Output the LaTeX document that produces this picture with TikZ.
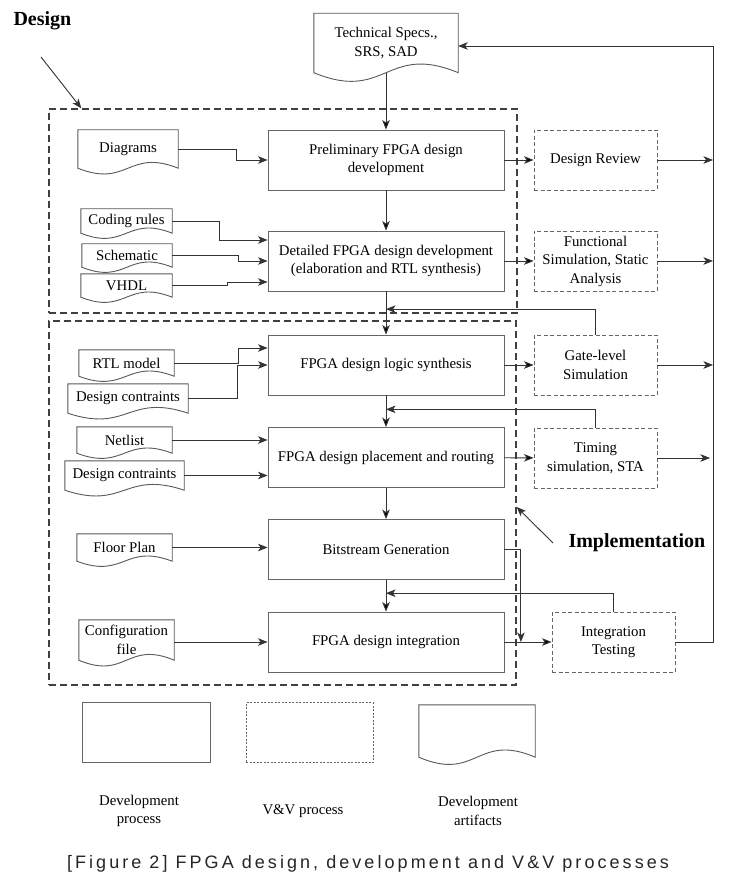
\documentclass[tikz,border=0pt]{standalone}
\usepackage{fontspec}
\setmainfont{Liberation Serif}
\newfontfamily\capfont[LetterSpace=17]{Liberation Sans}
\usetikzlibrary{positioning, arrows.meta, calc}

\begin{document}
\begin{tikzpicture}[
    x=1pt, y=-1pt,
    font=\fontsize{14.8}{18.5}\selectfont,
    >={Stealth[length=9.5pt, width=7.5pt, inset=2.5pt]},
    proc/.style={draw=black!60, line width=0.9pt, minimum width=236pt, minimum height=60pt, align=center},
    vv/.style={draw=black!60, line width=0.9pt, dash pattern=on 4pt off 2.5pt, minimum width=123pt, minimum height=60pt, align=center},
    doc/.style={align=center, inner sep=0pt},
    docline/.style={draw=black!65, line width=0.9pt},
    group/.style={draw=black!75, line width=1.3pt, dash pattern=on 7pt off 4pt},
    conn/.style={->, draw=black!80, line width=0.9pt},
    title/.style={font=\fontsize{20}{24}\bfseries\selectfont, anchor=west}
]
    \fill[white] (0,0) rectangle (734,890);

    % phase frames and their labels
    \node[group, minimum width=468pt, minimum height=204pt] (design) at (283,211) {};
    \node[group, minimum width=467pt, minimum height=364pt] (impl) at (282.5,503) {};
    \node[title] (designlab) at (10,21) {Design};
    \node[title] (implab) at (565,543) {Implementation};
    \coordinate (dtail) at (41,57);

    % development process (center column)
    \node[proc] (prelim) at (386,160) {Preliminary FPGA design\\development};
    \node[proc] (detail) at (386,261) {Detailed FPGA design development\\(elaboration and RTL synthesis)};
    \node[proc] (synth) at (386,365) {FPGA design logic synthesis};
    \node[proc] (place) at (386,457.5) {FPGA design placement and routing};
    \node[proc] (bit) at (386,549.5) {Bitstream Generation};
    \node[proc] (integ) at (386,642) {FPGA design integration};

    % V&V process (right column)
    \node[vv] (review) at (595.5,160) {Design Review};
    \node[vv] (func) at (595.5,261) {Functional\\Simulation, Static\\Analysis};
    \node[vv] (gate) at (595.5,365) {Gate-level\\Simulation};
    \node[vv] (timing) at (595.5,458) {Timing\\simulation, STA};
    \node[vv] (itest) at (613.5,642) {Integration\\Testing};

    % development artifacts (left column)
    \node[doc, minimum width=144pt, minimum height=59pt] (specs) at (386,43) {Technical Specs.,\\SRS, SAD};
    \node[doc, minimum width=100pt, minimum height=38pt] (diag) at (128,149) {Diagrams};
    \node[doc, minimum width=91pt, minimum height=24pt] (coding) at (126.5,221) {Coding rules};
    \node[doc, minimum width=90pt, minimum height=23pt] (schem) at (127,255.5) {Schematic};
    \node[doc, minimum width=91pt, minimum height=23pt] (vhdl) at (126.5,285.5) {VHDL};
    \node[doc, minimum width=95pt, minimum height=26pt] (rtl) at (126.5,363) {RTL model};
    \node[doc, minimum width=120pt, minimum height=29pt] (dc1) at (128,398.5) {Design contraints};
    \node[doc, minimum width=95pt, minimum height=26pt] (net) at (124.5,440) {Netlist};
    \node[doc, minimum width=119pt, minimum height=29pt] (dc2) at (124.5,475.5) {Design contraints};
    \node[doc, minimum width=95pt, minimum height=27pt] (floor) at (124.5,547.5) {Floor Plan};
    \node[doc, minimum width=95pt, minimum height=40pt] (config) at (126.5,640) {Configuration\\file};

    % legend
    \node[proc, minimum width=128pt] (legproc) at (146,732) {};
    \node[vv, minimum width=127pt, line width=0.8pt, dash pattern=on 2pt off 1.5pt] (legvv) at (309.5,732.5) {};
    \node[doc, minimum width=116pt, minimum height=52pt] (legdoc) at (477,731) {};
    \node[align=center] (legproctxt) at (139,811) {Development\\process};
    \node (legvvtxt) at (303,811) {V\&V process};
    \node[align=center] (legdoctxt) at (478,811) {Development\\artifacts};

    \node[font=\capfont\fontsize{18}{21}\selectfont, text=black!85] (caption) at (368,864) {[Figure 2] FPGA design, development and V\&V processes};

    % wavy document outlines
    \foreach \d/\k in {specs/30, diag/20, coding/18, schem/18, vhdl/18, rtl/18, dc1/20, net/18, dc2/20, floor/18, config/20, legdoc/25}
        \draw[docline] (\d.south west) -- (\d.north west) -- (\d.north east) -- (\d.south east)
            .. controls ($(\d.south)+(0,-\k)$) and ($(\d.south)+(0,\k)$) .. (\d.south west) -- cycle;

    % main flow
    \path[conn]
        (specs) edge (prelim)
        (prelim) edge (detail)
        (detail) edge (synth)
        (synth) edge (place)
        (place) edge (bit)
        (bit) edge (integ)
        (prelim) edge (review)
        (detail) edge (func)
        (synth) edge (gate)
        (place) edge (timing)
        (integ) edge (itest);

    % artifacts into processes
    \draw[conn] (diag.east) -- ++(58,0) |- (prelim.west);
    \draw[conn] (coding.east) -- ++(47,0) |- ($(detail.west)+(0,-21)$);
    \draw[conn] (schem.east) -- ++(66,0) |- (detail.west);
    \draw[conn] (vhdl.east) -- ++(55,0) |- ($(detail.west)+(0,21)$);
    \draw[conn] (rtl.east) -- ++(64,0) |- ($(synth.west)+(0,-17)$);
    \draw[conn] (dc1.east) -- ++(49,0) |- (synth.west);
    \draw[conn] (net.east) -- (place.west |- net.east);
    \draw[conn] (dc2.east) -- (place.west |- dc2.east);
    \draw[conn] (floor.east) -- (bit.west |- floor.east);
    \draw[conn] (config.east |- integ.west) -- (integ.west);

    % feedback from V&V
    \coordinate (fb1) at ($(detail.south)!.41!(synth.north)$);
    \coordinate (fb2) at ($(synth.south)!.44!(place.north)$);
    \coordinate (fb3) at ($(bit.south)!.42!(integ.north)$);
    \draw[conn] (gate.north) |- (fb1);
    \draw[conn] (timing.north) |- (fb2);
    \draw[conn] (itest.north) |- (fb3);
    \coordinate (bdrop) at ($(integ.east)!.35!(itest.west)$);
    \draw[conn] (bit.east) -| (bdrop);

    % right bus back to the specs
    \coordinate (bus) at (713,46);
    \draw[conn] (review.east) -- (review.east -| bus);
    \draw[conn] (func.east) -- (func.east -| bus);
    \draw[conn] (gate.east) -- (gate.east -| bus);
    \draw[conn] (timing.east) -- ($(timing.east -| bus)+(-3,0)$);
    \draw[conn] (itest.east) -| (bus) -- (bus -| specs.east);

    % pointers to the frames
    \draw[conn] (dtail) -- ($(design.north west)+(33,0)$);
    \draw[conn] ($(implab.west)+(-12,0)$) -- ($(impl.east)+(0,4)$);
\end{tikzpicture}
\end{document}
